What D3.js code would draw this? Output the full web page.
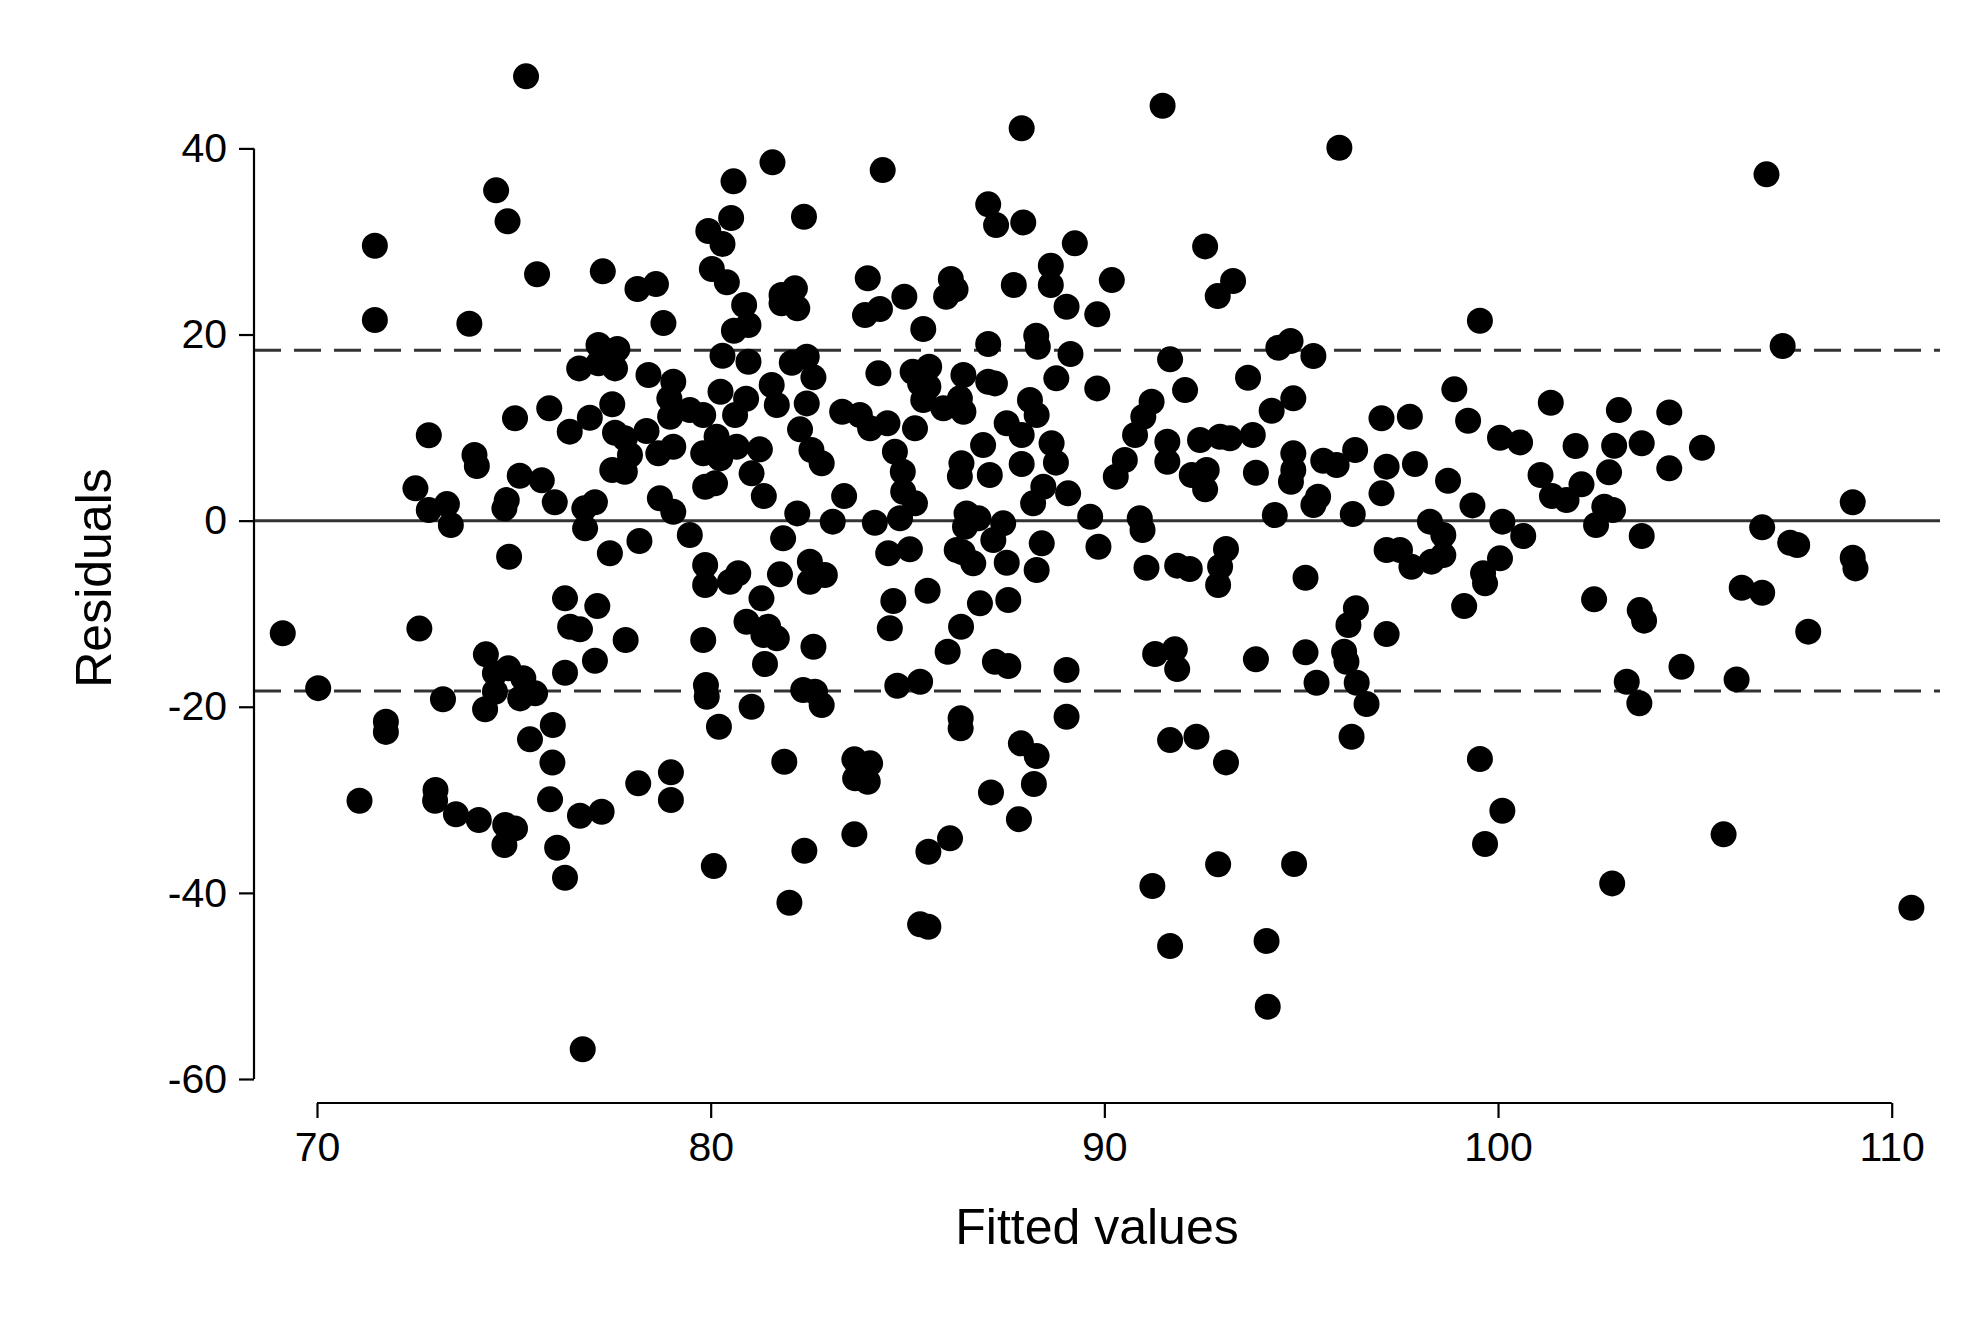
<!DOCTYPE html>
<html>
<head>
<meta charset="utf-8">
<script src="https://cdn.jsdelivr.net/npm/d3@7"></script>
<style>
  body { margin: 0; background: #fff; }
  svg { display: block; }
  .tick-lbl, .ax-title { font-family: "Liberation Sans", Arial, Helvetica, sans-serif; fill: #000; }
</style>
</head>
<body>
<svg id="chart"></svg>
<script>
// Residuals vs fitted values
const fitted = [
  75.31,74.55,74.84,71.47,71.47,73.87,75.59,77.26,78.14,78.61,78.80,77.15,77.63,76.66,77.15,77.57,78.42,79.05,
  87.9,81.57,80.58,84.37,80.52,79.94,80.30,82.37,87.05,87.25,87.94,89.25,80.03,80.41,80.85,80.96,80.59,81.8,82.14,82.2,81.8,83.99,83.92,84.3,84.92,85.4,86.1,86.22,85.98,87.7,88.64,88.64,89.04,89.82,87.05,88.27,88.31,89.14,80.3,80.96,82.06,82.44,82.61,84.26,85.13,85.55,85.32,85.53,86.42,87.05,87.22,88.78,89.82,80.25,81.55,
  91.48,95.97,92.56,93.27,92.88,90.19,99.54,91.67,94.42,94.73,95.31,93.65,98.89,92.05,
  106.82,107.23,
  72.84,74.0,74.06,72.5,72.84,73.3,73.4,75.03,75.9,76.93,77.5,76.42,74.82,74.76,75.15,75.71,76.04,76.79,77.06,76.81,77.57,77.82,78.37,77.95,77.5,77.82,78.67,79.05,78.95,78.97,79.47,78.71,79.05,79.47,78.19,77.44,74.88,76.30,77.12,76.43,76.68,77.84,77.06,76.30,69.13,72.6,70.03,74.29,74.86,74.52,75.24,75.54,75.16,74.52,74.27,73.2,75.99,71.75,71.75,
  80.9,81.68,82.44,83.34,83.79,84.05,84.49,85.4,85.91,86.42,85.19,86.33,79.81,80.62,82.27,82.56,82.82,79.81,80.24,80.66,81.25,80.15,79.86,80.11,81.04,81.35,82.2,83.39,83.1,84.17,84.68,84.88,84.89,85.19,84.81,81.84,79.86,79.86,80.7,80.49,81.76,82.52,82.9,82.52,81.29,80.91,81.46,81.68,81.34,79.81,82.61,81.38,79.88,79.9,82.35,82.65,82.82,81.04,80.21,84.51,85.06,84.64,84.55,85.51,84.74,85.32,86.5,86.8,86.46,86.37,86.33,86.92,87.09,87.43,87.18,87.52,87.9,88.11,88.28,87.9,88.66,88.77,88.45,88.19,89.08,89.64,89.85,88.41,88.28,86.25,86.67,86.4,87.52,86.84,87.56,86.36,86.02,87.22,87.56,89.04,89.04,86.35,86.35,
  91.2,90.99,90.78,94.25,94.8,90.52,90.29,91.6,91.6,92.43,92.94,93.19,93.77,92.22,92.6,92.56,93.85,94.8,94.8,94.74,95.56,95.9,96.37,95.43,95.31,94.33,96.31,97.04,97.76,99.24,100.05,97.17,97.89,97.04,98.73,99.35,100.11,90.9,90.97,91.07,91.85,92.17,93.09,92.94,92.89,95.11,98.27,98.61,98.61,98.31,97.8,97.51,97.17,100.05,99.62,99.67,99.14,96.39,96.2,97.17,91.29,91.79,91.85,93.85,95.11,96.09,96.15,96.41,96.66,95.39,
  101.34,103.07,104.35,100.56,101.97,102.95,103.65,105.18,101.08,102.12,101.37,101.74,102.82,104.35,102.7,102.92,102.49,100.64,103.65,109.01,106.71,107.42,107.6,109.01,109.08,106.19,106.71,102.44,103.6,103.71,107.88,104.66,106.06,103.27,103.59,
  75.41,75.98,71.08,73.01,73.0,73.53,74.11,74.78,75.03,74.76,75.92,76.68,77.23,76.1,76.3,78.16,78.99,78.99,76.75,
  81.87,83.65,84.05,83.67,83.99,87.88,88.28,88.21,87.12,87.83,83.65,82.38,80.08,82.0,86.08,85.53,85.32,85.53,
  91.67,92.34,93.09,96.28,99.54,100.11,99.67,92.89,94.82,91.22,91.67,94.12,94.15,
  105.73,102.9,110.5
];
const residuals = [
  47.74,35.49,32.16,29.54,21.56,21.16,26.47,26.79,24.89,25.42,21.23,18.87,18.44,16.36,16.9,16.36,15.65,14.93,
  42.16,38.5,36.46,37.67,32.52,31.12,29.72,32.66,33.99,31.76,32.05,29.8,27.04,25.61,23.17,21.02,20.41,24.24,24.96,22.81,23.35,26.04,22.09,22.74,24.06,20.59,25.96,24.85,24.06,25.32,27.39,25.32,22.99,22.17,18.98,19.87,18.69,17.9,17.72,17.08,16.97,17.61,15.4,15.83,16.0,16.54,14.75,14.39,15.65,14.93,14.75,15.29,14.21,13.85,14.57,
  44.59,40.07,29.47,25.75,24.13,25.85,21.48,17.33,18.58,19.3,17.69,15.36,14.11,14.03,
  37.21,18.76,
  9.17,7.05,5.87,3.47,1.14,1.78,-0.47,11.0,12.07,11.06,12.5,9.56,2.21,1.32,4.83,4.33,1.97,1.32,1.97,-0.83,9.45,8.84,9.63,7.05,5.44,5.26,7.23,7.94,13.14,11.17,11.88,2.4,0.96,-1.55,-2.19,-3.51,-3.88,-8.35,-9.18,-11.4,-11.68,-12.83,-15.05,-16.34,-12.1,-11.6,-18.0,-14.37,-15.87,-16.4,-16.94,-18.56,-19.1,-18.38,-20.27,-19.2,-21.96,-21.6,-22.7,
  13.1,12.42,12.6,11.7,11.35,9.92,10.46,12.96,12.07,11.7,9.92,13.14,11.35,11.35,9.81,7.59,6.16,7.23,6.69,7.94,7.66,9.02,3.64,4.01,5.08,2.64,0.78,2.64,-0.11,-0.22,7.4,5.25,3.1,1.86,0.25,-1.9,-4.77,-6.92,-5.66,-6.57,-5.77,-4.41,-5.84,-6.57,-8.35,-10.86,-11.4,-12.65,-12.29,-12.83,-13.55,-15.41,-17.67,-18.92,-18.2,-18.38,-19.82,-20.0,-22.15,-3.51,-3.08,-8.64,-11.57,-7.53,-17.74,-17.31,0.78,0.25,-0.65,6.16,4.73,8.12,4.9,-0.29,-2.08,10.46,9.2,12.96,11.35,6.08,8.31,6.23,3.64,1.86,2.93,0.42,-2.8,-2.44,-5.31,-3.16,-4.59,-3.4,-4.52,-8.89,-8.53,-11.4,-14.09,-15.16,-15.62,-16.05,-21.07,-21.24,-22.32,
  12.78,11.17,9.2,11.81,13.14,6.51,4.72,8.48,6.33,8.66,9.02,8.84,9.2,4.9,5.44,3.36,5.15,7.23,5.44,4.18,6.44,5.98,7.59,2.57,1.68,0.6,0.71,11.0,11.17,10.74,8.91,5.8,6.08,2.93,4.29,1.64,-0.11,0.25,-1.01,-5.06,-4.84,-5.2,-3.05,-4.95,-6.92,-6.13,-0.11,-1.55,-3.7,-4.41,-4.95,-3.16,-3.16,-4.05,-5.66,-6.74,-9.18,-9.42,-11.22,-12.19,-14.33,-13.83,-15.95,-14.9,-14.15,-14.09,-15.16,-17.42,-19.71,-17.42,
  12.67,11.88,11.63,8.41,8.02,8.05,8.31,7.83,4.9,3.9,2.64,2.21,5.19,5.62,1.49,1.14,-0.47,-1.65,-1.65,1.97,-0.72,-2.37,-2.62,-3.99,-5.13,-7.21,-7.75,-8.46,-9.61,-10.75,-11.93,-15.7,-17.06,-17.31,-19.63,
  -23.5,-26.0,-30.1,-28.95,-30.1,-31.56,-32.17,-32.71,-33.07,-34.86,-29.95,-31.71,-31.28,-35.15,-38.37,-28.23,-27.05,-30.02,-56.81,
  -25.91,-25.65,-26.08,-27.69,-28.06,-23.93,-25.3,-28.3,-29.2,-32.08,-33.71,-35.47,-37.12,-41.06,-34.14,-35.58,-43.38,-43.64,
  -23.58,-23.22,-25.98,-23.22,-25.62,-31.17,-34.75,-36.93,-36.9,-39.26,-45.71,-45.17,-52.23,
  -33.71,-38.98,-41.6
];
const xTicks = [70, 80, 90, 100, 110];
const yTicks = [-60, -40, -20, 0, 20, 40];
const bandLimit = 18.3;   // dashed reference lines at +/- this value
const xTitle = 'Fitted values';
const yTitle = 'Residuals';

const W = 1988, H = 1326;
const plotL = 254, plotR = 1940, plotT = 53, plotB = 1103;

const svg = d3.select('#chart').attr('width', W).attr('height', H);
svg.append('rect').attr('width', W).attr('height', H).attr('fill', '#fff');

const x = d3.scaleLinear().domain([70, 110]).range([317, 1891.7]);
const y = d3.scaleLinear().domain([-60, 40]).range([1079, 148.4]);

// reference lines: zero and the +/- band
svg.append('line')
  .attr('x1', plotL).attr('x2', plotR).attr('y1', y(0)).attr('y2', y(0))
  .attr('stroke', '#333').attr('stroke-width', 3);
[bandLimit, -bandLimit].forEach(v => {
  svg.append('line')
    .attr('x1', plotL).attr('x2', plotR).attr('y1', y(v)).attr('y2', y(v))
    .attr('stroke', '#333').attr('stroke-width', 3)
    .attr('stroke-dasharray', '27 13');
});

// points
svg.append('g').selectAll('circle')
  .data(fitted.map((f, i) => [f, residuals[i]]))
  .enter().append('circle')
  .attr('cx', d => x(d[0])).attr('cy', d => y(d[1]))
  .attr('r', 13).attr('fill', '#000');

// axes (plain hyphen for negatives, as in the reference)
const fmt = d => String(d);
const yAxis = svg.append('g').attr('transform', `translate(${plotL},0)`)
  .call(d3.axisLeft(y).tickValues(yTicks).tickSize(15).tickPadding(12).tickFormat(fmt));
const xAxis = svg.append('g').attr('transform', `translate(0,${plotB})`)
  .call(d3.axisBottom(x).tickValues(xTicks).tickSize(15).tickPadding(14).tickFormat(fmt));

[yAxis, xAxis].forEach(g => {
  g.select('.domain').attr('stroke', '#000').attr('stroke-width', 2.2);
  g.selectAll('.tick line').attr('stroke', '#000').attr('stroke-width', 2.2);
  g.selectAll('.tick text').attr('class', 'tick-lbl').style('font-size', '41px');
});
// axis lines only span the tick range
yAxis.select('.domain').attr('d', `M0,${y(40)}V${y(-60)}`);
xAxis.select('.domain').attr('d', `M${x(70)},0H${x(110)}`);

// titles
svg.append('text').attr('class', 'ax-title')
  .attr('x', (plotL + plotR) / 2).attr('y', 1244)
  .attr('text-anchor', 'middle').style('font-size', '50px')
  .text(xTitle);
svg.append('text').attr('class', 'ax-title')
  .attr('transform', `translate(111,${(plotT + plotB) / 2}) rotate(-90)`)
  .attr('text-anchor', 'middle').style('font-size', '50px')
  .text(yTitle);
</script>
</body>
</html>
